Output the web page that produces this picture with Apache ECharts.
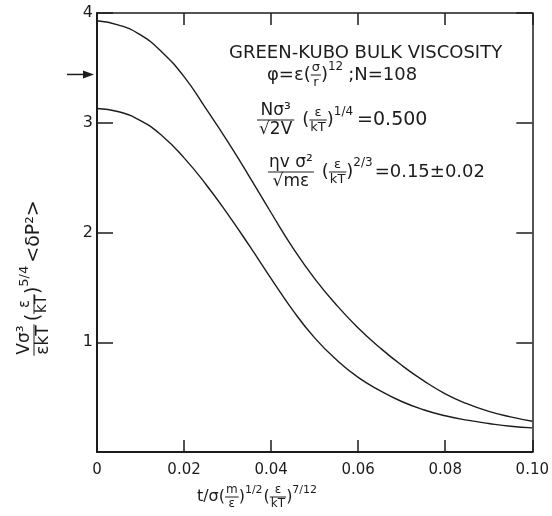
<!DOCTYPE html>
<html><head><meta charset="utf-8">
<script src="https://cdn.jsdelivr.net/npm/echarts@6/dist/echarts.min.js"></script>
<style>html,body{margin:0;padding:0;background:#fff}#c{width:552px;height:516px}</style>
</head><body><div id="c"></div>
<script>
// ---- data ----
const tValues    = [0, 0.005, 0.01, 0.015, 0.02, 0.025, 0.03, 0.035, 0.04, 0.045, 0.05,
                    0.055, 0.06, 0.065, 0.07, 0.075, 0.08, 0.085, 0.09, 0.095, 0.10];
const upperCurve = [3.93, 3.89, 3.80, 3.64, 3.42, 3.13, 2.83, 2.51, 2.18, 1.86, 1.58,
                    1.34, 1.13, 0.95, 0.79, 0.65, 0.53, 0.44, 0.37, 0.32, 0.28];
const lowerCurve = [3.13, 3.10, 3.02, 2.88, 2.68, 2.44, 2.17, 1.88, 1.58, 1.29, 1.04,
                    0.84, 0.68, 0.56, 0.46, 0.385, 0.33, 0.29, 0.26, 0.235, 0.22];
const xTickLabels = ['0', '0.02', '0.04', '0.06', '0.08', '0.10'];
const yTickLabels = ['1', '2', '3', '4'];
const arrowMark = [0, 3.44];

const FONT = '"DejaVu Sans", sans-serif';
const INK = '#1c1c1c';
const mctx = document.createElement('canvas').getContext('2d');
function tw(t, s) { mctx.font = s + 'px ' + FONT; return mctx.measureText(t).width; }
function txt(t, x, y, s, align, valign) {
  return {type: 'text', x: x, y: y, silent: true,
    style: {text: t, font: s + 'px ' + FONT, fill: INK, align: align, verticalAlign: valign}};
}
function layout(items, x0, yMid) {
  const els = []; let cx = x0;
  for (const it of items) {
    const s = it.s || 18;
    if (it.frac) {
      const w = Math.max(tw(it.frac[0], s), tw(it.frac[1], s)) + (it.pad || 2);
      els.push(txt(it.frac[0], cx + w / 2, yMid - 1 + (it.nd || 0), s, 'center', 'bottom'));
      els.push({type: 'line', silent: true, shape: {x1: cx, y1: yMid, x2: cx + w, y2: yMid},
        style: {stroke: INK, lineWidth: 1}});
      els.push(txt(it.frac[1], cx + w / 2, yMid + 1, s, 'center', 'top'));
      cx += w + (it.gap == null ? 2 : it.gap);
    } else {
      els.push(txt(it.t, cx, yMid + (it.dy || 0), s, 'left', 'middle'));
      cx += tw(it.t, s) + (it.gap || 0);
    }
  }
  return {els: els, width: cx - x0};
}

const chart = echarts.init(document.getElementById('c'), null, {renderer: 'canvas'});

const xCommon = {type: 'value', min: 0, max: 0.10, interval: 0.02, splitLine: {show: false}};
const yCommon = {type: 'value', min: 0, max: 4, interval: 1, splitLine: {show: false}};

chart.setOption({
  animation: false,
  backgroundColor: '#fff',
  grid: {left: 97, right: 10, top: 13, bottom: 64, containLabel: false},
  xAxis: [
    Object.assign({}, xCommon, {position: 'bottom',
      axisLine: {onZero: false, lineStyle: {color: INK, width: 2}},
      axisTick: {inside: true, length: 12, lineStyle: {color: INK, width: 1.5}},
      axisLabel: {fontFamily: FONT, fontSize: 15, color: INK, margin: 11,
        formatter: function (v) { return xTickLabels[Math.round(v / 0.02)]; }}}),
    Object.assign({}, xCommon, {position: 'top',
      axisLine: {onZero: false, lineStyle: {color: INK, width: 1.5}},
      axisTick: {inside: true, length: 12, lineStyle: {color: INK, width: 1.5}},
      axisLabel: {show: false}})
  ],
  yAxis: [
    Object.assign({}, yCommon, {position: 'left',
      axisLine: {onZero: false, lineStyle: {color: INK, width: 2}},
      axisTick: {inside: true, length: 16, lineStyle: {color: INK, width: 1.5}},
      axisLabel: {fontFamily: FONT, fontSize: 16, color: INK, margin: 4,
        formatter: function (v) { return v === 0 ? '' : yTickLabels[v - 1]; }}}),
    Object.assign({}, yCommon, {position: 'right',
      axisLine: {onZero: false, lineStyle: {color: INK, width: 1.5}},
      axisTick: {inside: true, length: 16, lineStyle: {color: INK, width: 1.5}},
      axisLabel: {show: false}})
  ],
  series: [
    {name: 'upper', type: 'line', xAxisIndex: 0, yAxisIndex: 0, smooth: 0.5,
      showSymbol: false, lineStyle: {color: INK, width: 1.4},
      data: tValues.map((t, i) => [t, upperCurve[i]])},
    {name: 'lower', type: 'line', xAxisIndex: 0, yAxisIndex: 0, smooth: 0.5,
      showSymbol: false, lineStyle: {color: INK, width: 1.4},
      data: tValues.map((t, i) => [t, lowerCurve[i]])}
  ]
});

// ---- annotations ----
const g = [];
g.push(txt('GREEN-KUBO BULK VISCOSITY', 229, 53, 18, 'left', 'middle'));
layout([{t: 'φ=ε', s: 18}, {t: '(', s: 18}, {frac: ['σ', 'r'], s: 13, gap: 0}, {t: ')', s: 18},
        {t: '12', s: 12, dy: -8, gap: 5}, {t: ';N=108', s: 18}], 267, 75).els.forEach(e => g.push(e));
layout([{frac: ['Nσ³', '√2V'], s: 17, pad: 4, gap: 8}, {t: '(', s: 18}, {frac: ['ε', 'kT'], s: 13, gap: 0},
        {t: ')', s: 18}, {t: '1/4', s: 12, dy: -8, gap: 4}, {t: '=0.500', s: 19}], 257, 120).els.forEach(e => g.push(e));
layout([{frac: ['ηv σ²', '√mε'], s: 17, pad: 2, gap: 8}, {t: '(', s: 18}, {frac: ['ε', 'kT'], s: 13, gap: 0},
        {t: ')', s: 18}, {t: '2/3', s: 12, dy: -9, gap: 2}, {t: '=0.15±0.02', s: 18}], 268, 172).els.forEach(e => g.push(e));

// x axis title
const xItems = [{t: 't/σ', s: 16}, {t: '(', s: 16}, {frac: ['m', 'ε'], s: 12, gap: 0}, {t: ')', s: 16},
                {t: '1/2', s: 11, dy: -7, gap: 1}, {t: '(', s: 16}, {frac: ['ε', 'kT'], s: 12, gap: 0},
                {t: ')', s: 16}, {t: '7/12', s: 11, dy: -7}];
const xw = layout(xItems, 0, 0).width;
layout(xItems, 257 - xw / 2, 497).els.forEach(e => g.push(e));

// y axis title (rotated)
const yItems = [{frac: ['Vσ³', 'εkT'], s: 17, pad: 2, gap: 3}, {t: '(', s: 19}, {frac: ['ε', 'kT'], s: 15, gap: 0},
                {t: ')', s: 19}, {t: '5/4', s: 13, dy: -9, gap: 3}, {t: '<δP²>', s: 19}];
const yw = layout(yItems, 0, 0).width;
g.push({type: 'group', x: 34, y: 278, rotation: Math.PI / 2, children: layout(yItems, -yw / 2, 0).els});

// arrow pointing at the axis
const p = chart.convertToPixel({xAxisIndex: 0, yAxisIndex: 0}, arrowMark);
g.push({type: 'line', silent: true, shape: {x1: p[0] - 30, y1: p[1], x2: p[0] - 8, y2: p[1]},
  style: {stroke: INK, lineWidth: 1.5}});
g.push({type: 'polygon', silent: true,
  shape: {points: [[p[0] - 14, p[1] - 4], [p[0] - 3, p[1]], [p[0] - 14, p[1] + 4]]},
  style: {fill: INK}});

chart.setOption({graphic: {elements: g}});
</script></body></html>
